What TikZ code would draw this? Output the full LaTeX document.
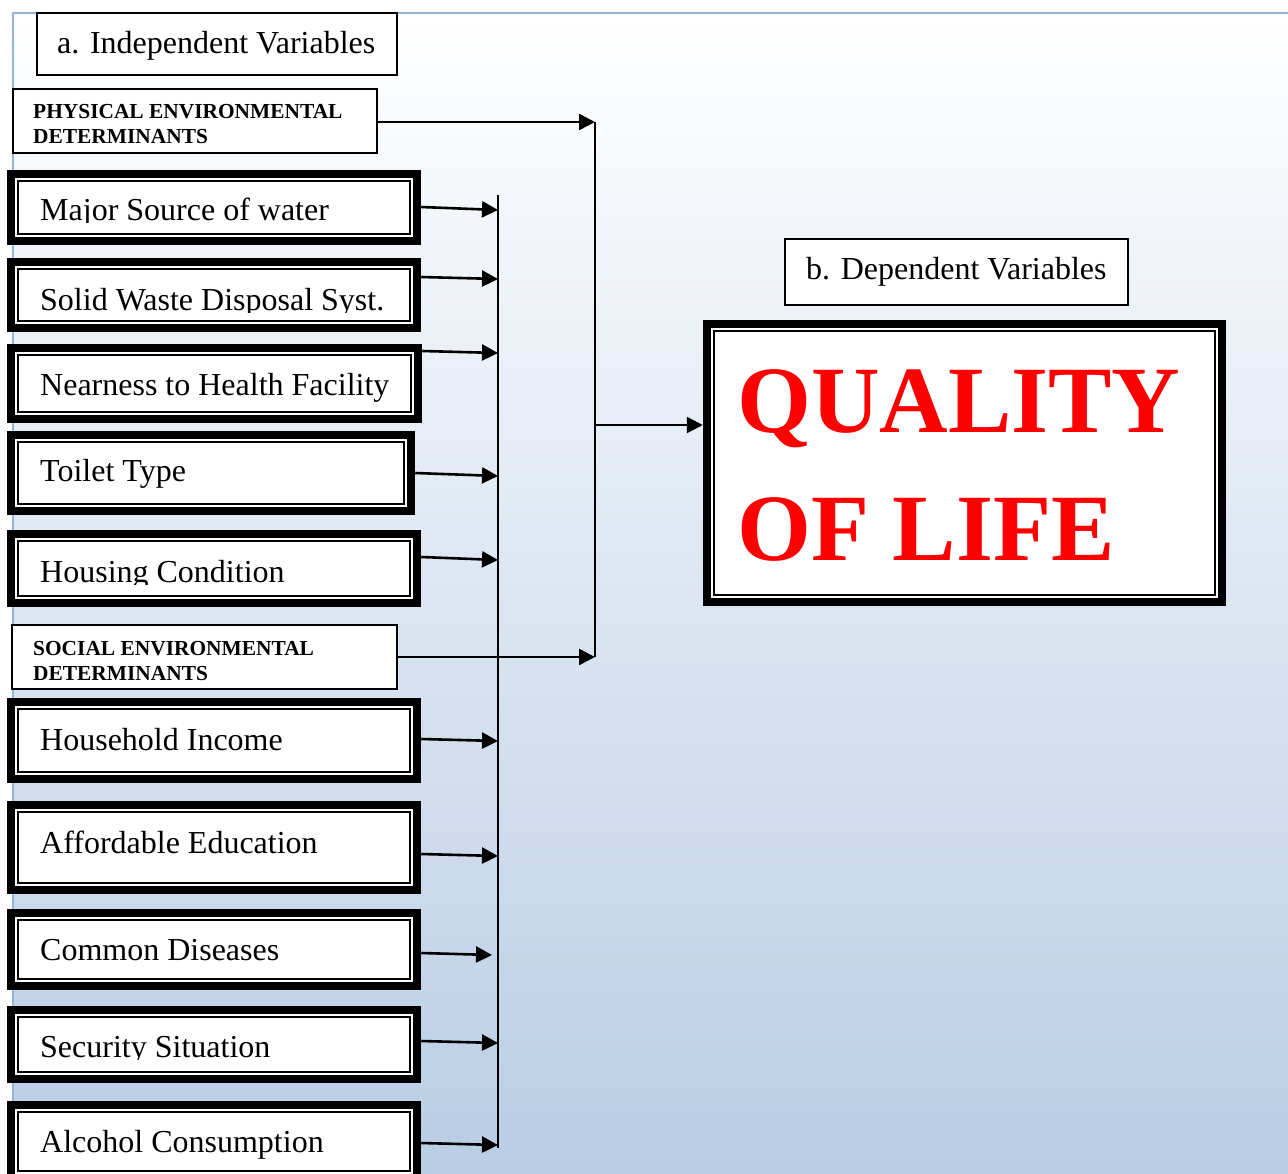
\documentclass[tikz,border=0pt]{standalone}
\usepackage{fontspec}
\setmainfont{Liberation Serif}
\usetikzlibrary{arrows.meta}
\definecolor{bgtop}{RGB}{255,255,255}
\definecolor{bgbot}{RGB}{184,204,228}
\definecolor{bgedge}{RGB}{149,179,215}
\definecolor{qred}{RGB}{255,0,0}
\tikzset{
  thinbox/.style={draw=black, line width=1.8pt, fill=white, inner sep=0pt},
  dbox/.style={draw=black, line width=8.5pt, fill=white, inner sep=0pt,
    path picture={\draw[black, line width=1.8pt]
      ([shift={(7.3pt,-7.3pt)}]path picture bounding box.north west) rectangle
      ([shift={(-7.3pt,7.3pt)}]path picture bounding box.south east);}},
  lbl/.style={anchor=base west, inner sep=0pt, font=\fontsize{32}{38}\selectfont},
  hdr/.style={anchor=north west, inner sep=0pt, align=left, font=\bfseries\fontsize{21.4}{25}\selectfont},
  qtxt/.style={anchor=base west, inner sep=0pt, text=qred, font=\bfseries\fontsize{95}{110}\selectfont},
  arr/.style={-{Triangle[length=16pt,width=16pt]}, line width=2.6pt},
  bus/.style={line width=2pt},
}
\begin{document}
\begin{tikzpicture}[x=1pt,y=-1pt]
\useasboundingbox (0,0) rectangle (1288,1173);
\clip (0,0) rectangle (1288,1173);
% background panel
\shade[top color=bgtop, bottom color=bgbot] (13,13) rectangle (1300,1190);
\draw[bgedge, line width=2.5pt] (13,1190) -- (13,13) -- (1300,13);

% headings
\node[thinbox, minimum width=360pt, minimum height=62pt] (indep) at (217,44) {};
\node[lbl] (tindep) at (57,53) {a. Independent Variables};
\node[thinbox, minimum width=364pt, minimum height=64pt] (phys) at (195,121) {};
\node[hdr] (tphys) at (33,104) {PHYSICAL ENVIRONMENTAL\\DETERMINANTS};
\node[thinbox, minimum width=385pt, minimum height=64pt] (social) at (204.5,657) {};
\node[hdr] (tsocial) at (33,641) {SOCIAL ENVIRONMENTAL\\DETERMINANTS};
\node[thinbox, minimum width=343pt, minimum height=66pt] (dep) at (956.5,272) {};
\node[lbl] (tdep) at (806,279) {b. Dependent Variables};

% variable boxes
\node[dbox, minimum width=406pt, minimum height=67pt] (major) at (214,207.5) {};
\begin{scope}\clip (0,160) rectangle (430,222);
\node[lbl] (tmajor) at (40,220) {Major Source of water};
\end{scope}
\node[dbox, minimum width=406pt, minimum height=66pt] (solid) at (214,295) {};
\begin{scope}\clip (0,250) rectangle (430,312);
\node[lbl] (tsolid) at (40,310) {Solid Waste Disposal Syst.};
\end{scope}
\node[dbox, minimum width=407pt, minimum height=71pt] (near) at (214.5,383.5) {};
\node[lbl] (tnear) at (40,395) {Nearness to Health Facility};
\node[dbox, minimum width=400pt, minimum height=76pt] (toilet) at (211,473) {};
\node[lbl] (ttoilet) at (40,481) {Toilet Type};
\node[dbox, minimum width=406pt, minimum height=69pt] (housing) at (214,568.5) {};
\begin{scope}\clip (0,520) rectangle (430,584);
\node[lbl] (thousing) at (40,582) {Housing Condition};
\end{scope}
\node[dbox, minimum width=406pt, minimum height=77pt] (income) at (214,740.5) {};
\node[lbl] (tincome) at (40,750) {Household Income};
\node[dbox, minimum width=406pt, minimum height=85pt] (educ) at (214,847.5) {};
\node[lbl] (teduc) at (40,853) {Affordable Education};
\node[dbox, minimum width=406pt, minimum height=73pt] (disease) at (214,949.5) {};
\node[lbl] (tdisease) at (40,960) {Common Diseases};
\node[dbox, minimum width=406pt, minimum height=69pt] (security) at (214,1044.5) {};
\begin{scope}\clip (0,1000) rectangle (430,1059);
\node[lbl] (tsecurity) at (40,1057) {Security Situation};
\end{scope}
\node[dbox, minimum width=406pt, minimum height=73pt] (alcohol) at (214,1141.5) {};
\node[lbl] (talcohol) at (40,1152) {Alcohol Consumption};

% dependent box
\node[dbox, minimum width=515pt, minimum height=278pt] (qol) at (964.5,463) {};
\node[qtxt] (tq1) at (737,432) {QUALITY};
\node[qtxt] (tq2) at (737,560) {OF LIFE};

% connectors
\coordinate (busT) at (498,195);
\coordinate (busB) at (498,1148);
\draw[bus] (busT) -- (busB);
\draw[arr] (major.east |- 0,207) -- (busT |- 0,210);
\draw[arr] (solid.east |- 0,277) -- (busT |- 0,279);
\draw[arr] (near.east |- 0,351) -- (busT |- 0,353);
\draw[arr] (toilet.east |- 0,473) -- (busT |- 0,476);
\draw[arr] (housing.east |- 0,557) -- (busT |- 0,560);
\draw[arr] (income.east |- 0,739) -- (busT |- 0,741);
\draw[arr] (educ.east |- 0,854) -- (busT |- 0,856);
\draw[arr] (disease.east |- 0,953) -- ([xshift=-6pt]busT |- 0,955);
\draw[arr] (security.east |- 0,1041) -- (busT |- 0,1043);
\draw[arr] (alcohol.east |- 0,1143) -- (busT |- 0,1145);

\coordinate (jtop) at (595,122);
\coordinate (jmid) at (595,425);
\coordinate (jbot) at (595,657);
\draw[bus] (jtop) -- (jbot);
\draw[arr] (phys.east |- jtop) -- (jtop);
\draw[arr] (social.east |- jbot) -- (jbot);
\draw[arr] (jmid) -- (qol.west |- jmid);
\end{tikzpicture}
\end{document}
